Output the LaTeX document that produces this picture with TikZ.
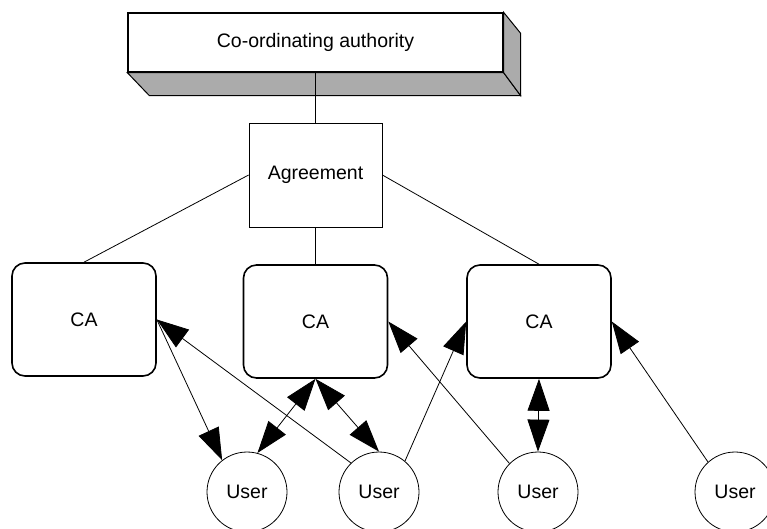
\documentclass[tikz,border=0pt]{standalone}
\usepackage{fontspec}
\setmainfont{Liberation Sans}
\usetikzlibrary{arrows.meta,calc}
\begin{document}
\begin{tikzpicture}[x=1pt,y=-1pt,
  lbl/.style={font=\fontsize{19.5}{22}\selectfont},
  coordbox/.style={draw,line width=1.3pt,fill=white,minimum width=375pt,minimum height=59pt,lbl},
  face/.style={draw,line width=1pt,fill=black!33},
  agrbox/.style={draw,line width=0.8pt,minimum width=133pt,minimum height=104pt,lbl},
  cabox/.style={draw,line width=1.6pt,rounded corners=13pt,minimum width=144pt,minimum height=113pt,lbl},
  userc/.style={draw,line width=0.8pt,circle,minimum size=80pt,inner sep=0pt,lbl},
  link/.style={line width=0.8pt},
  one/.style={link,-{Triangle[length=32pt,width=22pt]}},
  two/.style={link,{Triangle[length=32pt,width=22pt]}-{Triangle[length=32pt,width=22pt]}}]
\useasboundingbox (0,0) rectangle (767,528);
% 3D block
\node[coordbox] (coord) at (315.5,42.5) {Co-ordinating authority};
\coordinate (sw2) at ($(coord.south west)+(22,23)$);
\coordinate (se2) at ($(coord.south east)+(17,23)$);
\coordinate (ne2) at ($(coord.north east)+(17,21)$);
\draw[face] (coord.south west) -- (sw2) -- (se2) -- (coord.south east) -- cycle;
\draw[face] (coord.north east) -- (ne2) -- (se2) -- (coord.south east) -- cycle;
% nodes
\node[agrbox] (agr) at (315.5,175) {Agreement};
\node[cabox] (ca1) at (84,319.5) {CA};
\node[cabox] (ca2) at (315.5,321.5) {CA};
\node[cabox] (ca3) at (539,321.5) {CA};
\node[userc] (u1) at (247,492) {User};
\node[userc] (u2) at (379,492) {User};
\node[userc] (u3) at (538,492) {User};
\node[userc] (u4) at (735,492) {User};
% tree links
\draw[link] (coord.south) -- (agr.north);
\draw[link] (agr.west) -- (ca1.north);
\draw[link] (agr.south) -- (ca2.north);
\draw[link] (agr.east) -- (ca3.north);
% arrows
\draw[one] (ca1.east) -- (u1.128);
\draw[two] (ca2.south) -- (u1.75);
\draw[two] (ca2.south) -- (u2.north);
\draw[one] (u2.134) -- (ca1.east);
\draw[one] (u2.50) -- (ca3.west);
\draw[one] (u3.135) -- (ca2.east);
\draw[two] (ca3.south) -- (u3.north);
\draw[one] (u4.132) -- (ca3.east);
\end{tikzpicture}
\end{document}
